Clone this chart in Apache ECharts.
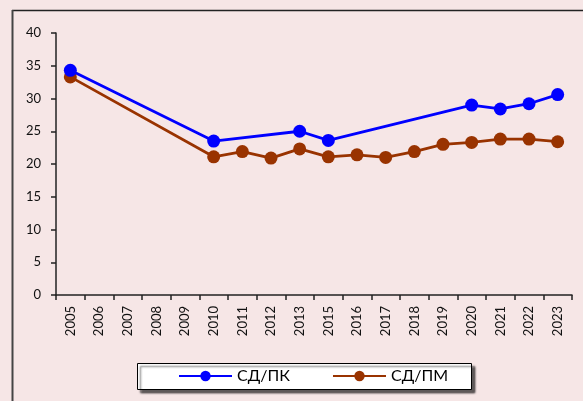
<!DOCTYPE html>
<html>
<head>
<meta charset="utf-8">
<script src="https://cdn.jsdelivr.net/npm/echarts@6/dist/echarts.min.js"></script>
<style>
html,body{margin:0;padding:0;background:#F6E6E6;}
#c{width:583px;height:401px;}
</style>
</head>
<body>
<div id="c"></div>
<script>
var categories = ['2005','2006','2007','2008','2009','2010','2011','2012','2013','2015','2016','2017','2018','2019','2020','2021','2022','2023'];
var seriesNames = ['СД/ПК','СД/ПМ'];
var sdPk = [34.3,null,null,null,null,23.5,null,null,25.0,23.6,null,null,null,null,29.0,28.4,29.2,30.6];
var sdPm = [33.3,null,null,null,null,21.1,21.9,20.9,22.3,21.1,21.4,21.0,21.9,23.0,23.3,23.8,23.8,23.4];
var yTicks = {min:0, max:40, interval:5};

var chart = echarts.init(document.getElementById('c'));
var font = 'Lato, "Open Sans", sans-serif';
chart.setOption({
  backgroundColor:'#F6E6E6',
  animation:false,
  grid:{left:56,right:11,top:33,bottom:106,containLabel:false},
  graphic:[
    {type:'line',shape:{x1:12,y1:10.5,x2:583,y2:10.5},style:{stroke:'#222',lineWidth:1.5},z:1},
    {type:'line',shape:{x1:12.5,y1:10,x2:12.5,y2:401},style:{stroke:'#444',lineWidth:2},z:1},
    {type:'rect',shape:{x:137.5,y:363.5,width:334,height:26},
     style:{fill:'#fff',stroke:'#000',lineWidth:1,shadowBlur:2,shadowOffsetX:3,shadowOffsetY:3,shadowColor:'rgba(0,0,0,0.6)'},z:1}
  ],
  legend:{
    left:178,top:368,itemWidth:53,itemHeight:13,itemGap:42,
    textStyle:{fontFamily:font,fontSize:16,color:'#000',padding:[0,0,0,0]},
    padding:0,
    z:5
  },
  xAxis:{
    type:'category',data:categories,boundaryGap:true,
    axisLine:{lineStyle:{color:'#222',width:1.5}},
    axisTick:{show:true,alignWithLabel:false,length:5,lineStyle:{color:'#222',width:1.5}},
    axisLabel:{rotate:90,interval:0,margin:11,fontFamily:font,fontSize:13,color:'#111'},
    splitLine:{show:false}
  },
  yAxis:{
    type:'value',min:yTicks.min,max:yTicks.max,interval:yTicks.interval,
    axisLine:{show:true,lineStyle:{color:'#222',width:1.5}},
    axisTick:{show:true,length:5,lineStyle:{color:'#222',width:1.5}},
    axisLabel:{margin:15,fontFamily:font,fontSize:13,color:'#111'},
    splitLine:{show:false}
  },
  series:[
    {name:seriesNames[0],type:'line',data:sdPk,connectNulls:true,symbol:'circle',symbolSize:13,
     lineStyle:{color:'#0000FF',width:2.8},itemStyle:{color:'#0000FF'},z:3},
    {name:seriesNames[1],type:'line',data:sdPm,connectNulls:true,symbol:'circle',symbolSize:13,
     lineStyle:{color:'#993300',width:2.8},itemStyle:{color:'#993300'},z:2}
  ]
});
</script>
</body>
</html>
